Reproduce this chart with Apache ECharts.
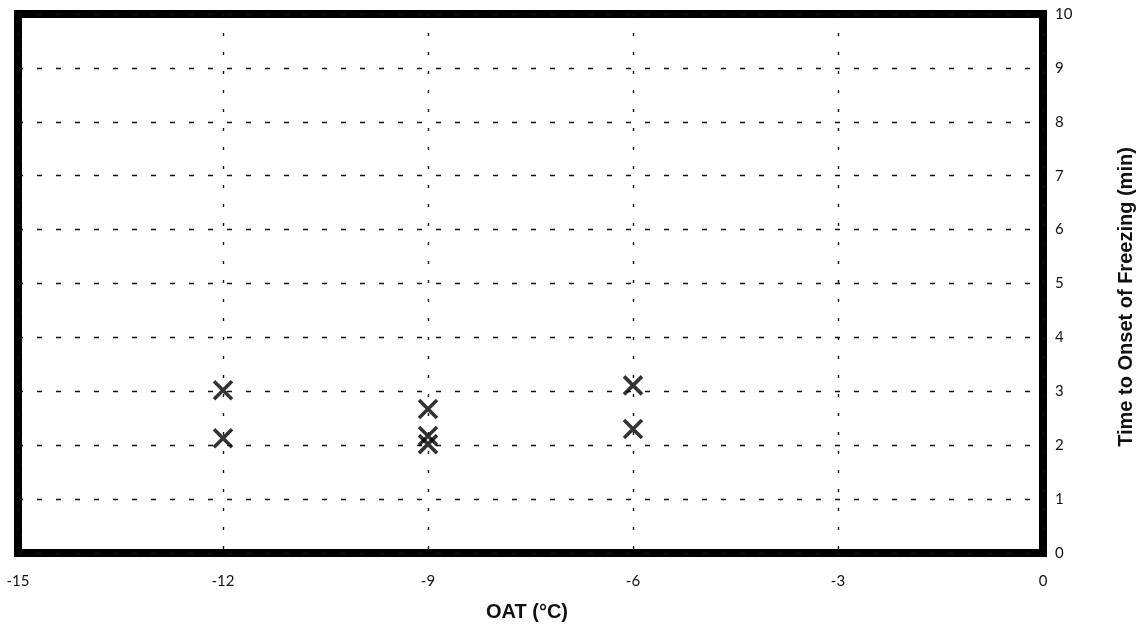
<!DOCTYPE html>
<html>
<head>
<meta charset="utf-8">
<script src="https://cdn.jsdelivr.net/npm/echarts@6/dist/echarts.min.js"></script>
<style>html,body{margin:0;padding:0;background:#fff;}#c{width:1147px;height:629px;}</style>
</head>
<body>
<div id="c"></div>
<script>
const oatValues = [-12, -12, -9, -9, -9, -6, -6];
const timeValues = [3.02, 2.13, 2.67, 2.17, 2.02, 3.11, 2.3];
const xTicks = [-15, -12, -9, -6, -3, 0];
const yTicks = [0, 1, 2, 3, 4, 5, 6, 7, 8, 9, 10];
const xTitle = 'OAT (°C)';
const yTitle = 'Time to Onset of Freezing (min)';

const points = oatValues.map((x, i) => [x, timeValues[i]]);
const chart = echarts.init(document.getElementById('c'));
chart.setOption({
  animation: false,
  grid: { left: 18, right: 104, top: 14, bottom: 76, show: true, borderColor: '#000', borderWidth: 8, backgroundColor: 'transparent' },
  xAxis: {
    type: 'value', min: -15, max: 0, interval: 3,
    axisLine: { show: false }, axisTick: { show: false },
    axisLabel: { color: '#111', fontSize: 15, fontFamily: 'Lato', margin: 21,
      formatter: v => xTicks.includes(v) ? String(v) : '' },
    splitLine: { show: true, lineStyle: { color: '#111', width: 1.4, type: [3, 16] } }
  },
  yAxis: {
    type: 'value', min: 0, max: 10, interval: 1, position: 'right',
    axisLine: { show: false }, axisTick: { show: false },
    axisLabel: { color: '#111', fontSize: 15, fontFamily: 'Lato', margin: 12,
      formatter: v => yTicks.includes(v) ? String(v) : '' },
    splitLine: { show: true, lineStyle: { color: '#111', width: 1.4, type: [5, 14] } }
  },
  graphic: [
    { type: 'text', x: 527, y: 612, z: 10,
      style: { text: xTitle, align: 'center', verticalAlign: 'middle',
        font: 'bold 20px "Liberation Sans"', fill: '#111' } },
    { type: 'text', x: 1126, y: 297, rotation: Math.PI / 2, z: 10,
      style: { text: yTitle, align: 'center', verticalAlign: 'middle',
        font: 'bold 20px "Liberation Sans"', fill: '#111' } }
  ],
  series: [{
    type: 'scatter',
    data: points,
    symbol: 'path://M0,0 L10,10 M10,0 L0,10',
    symbolSize: 18,
    itemStyle: { color: 'none', borderColor: '#000', borderWidth: 3.6 },
    z: 5
  }]
});
</script>
</body>
</html>
